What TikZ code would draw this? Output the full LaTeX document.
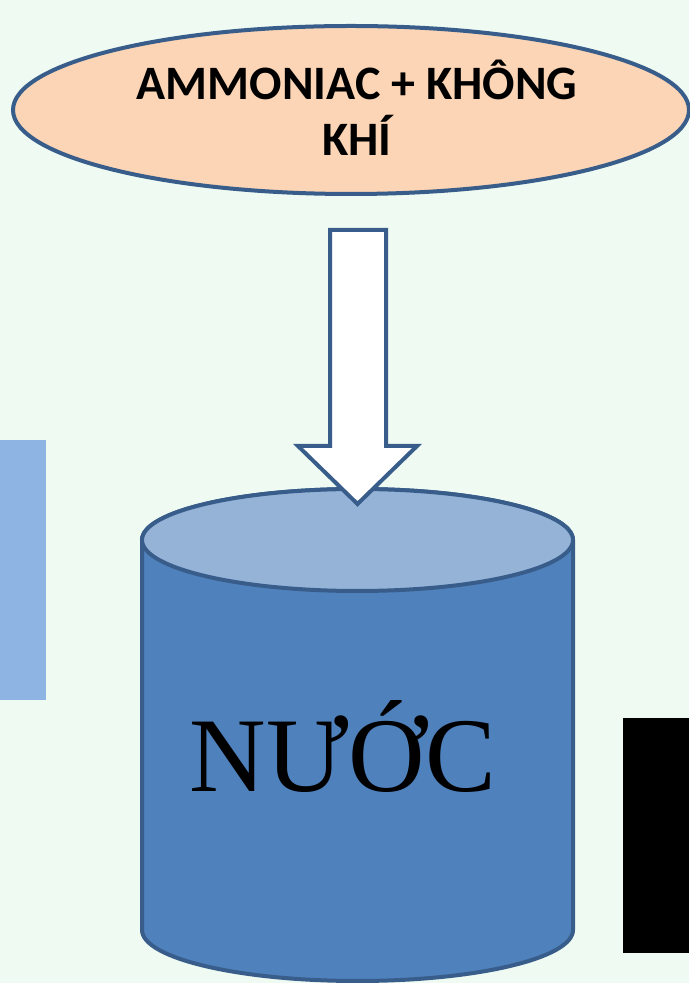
\documentclass[tikz,border=0pt]{standalone}
\usepackage{fontspec}
\setmainfont{Liberation Serif}
\newfontfamily\titlefont{Carlito}
\usetikzlibrary{shapes.geometric}
\definecolor{bgcol}{RGB}{239,250,242}
\definecolor{peach}{RGB}{251,213,181}
\definecolor{edgeblue}{RGB}{56,93,138}
\definecolor{bodyblue}{RGB}{79,129,189}
\definecolor{topblue}{RGB}{149,179,215}
\definecolor{sideblue}{RGB}{142,180,227}
\tikzset{
  titleoval/.style={ellipse, draw=edgeblue, fill=peach, line width=4pt, inner sep=0pt,
    minimum width=676pt, minimum height=168pt},
  titletxt/.style={align=center, inner sep=0pt,
    font=\titlefont\bfseries\fontsize{48}{56}\selectfont},
  outl/.style={draw=edgeblue, line width=4pt, line join=miter},
  bigtext/.style={font=\fontsize{106}{110}\selectfont, inner sep=0pt, anchor=base}
}
\begin{document}
\begin{tikzpicture}[x=1pt,y=1pt]
\useasboundingbox (0,0) rectangle (689,983);
\fill[bgcol] (0,0) rectangle (689,983);
% side panels
\fill[sideblue] (0,283) rectangle (46,543);
\fill[black] (623,30) rectangle (689,265);
% title oval
\node[titleoval] (title) at (351,873) {};
\node[titletxt] (titletext) at (357,875) {AMMONIAC + KHÔNG\\KHÍ};
% cylinder
\path[outl, fill=bodyblue] (142,443) -- (142,53)
  arc[start angle=180, end angle=360, x radius=215.5pt, y radius=51pt]
  -- (573,443)
  arc[start angle=0, end angle=180, x radius=215.5pt, y radius=51pt] -- cycle;
\path[outl, fill=topblue] (357.5,443) ellipse [x radius=215.5pt, y radius=51pt];
\coordinate (cyltop) at (357.5,479);
\node[bigtext] (water) at (343,191) {NƯỚC};
% block arrow
\coordinate (arrtop) at (358,753);
\path[outl, fill=white] (330,753) -- (386,753) -- (386,537) -- (417,537)
  -- (cyltop) -- (298,537) -- (330,537) -- cycle;
\end{tikzpicture}
\end{document}
